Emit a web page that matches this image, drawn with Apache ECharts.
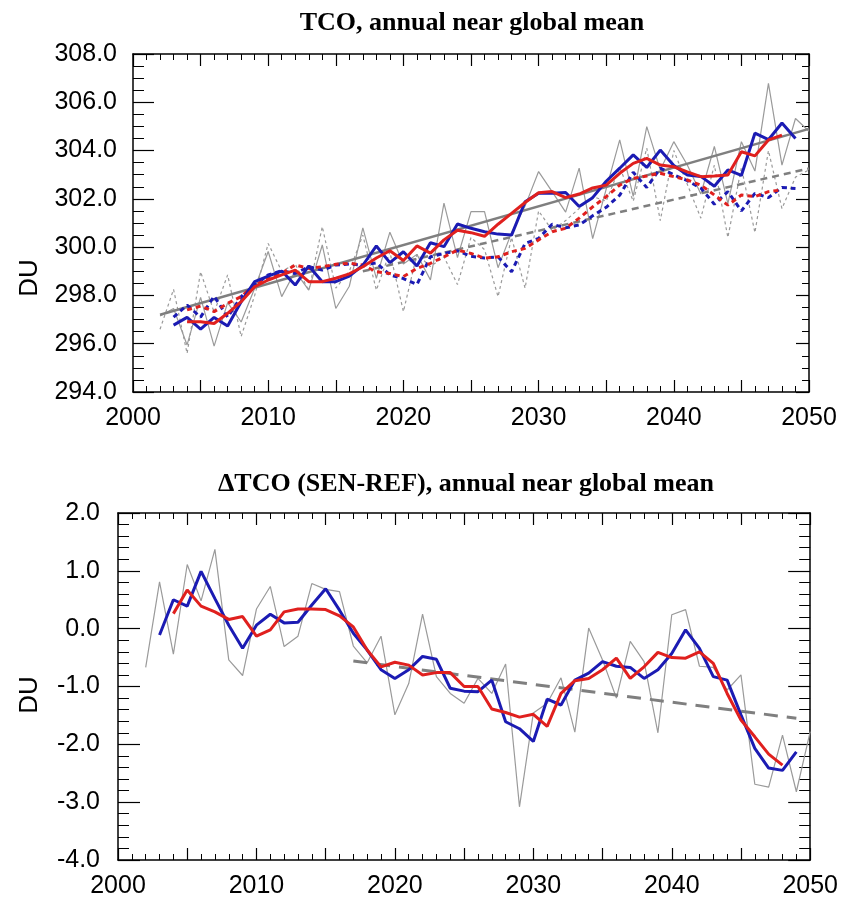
<!DOCTYPE html>
<html><head><meta charset="utf-8">
<script src="https://cdn.jsdelivr.net/npm/echarts@6/dist/echarts.min.js"></script>
<style>html,body{margin:0;padding:0;background:#fff}#c{width:841px;height:902px}</style>
</head><body><div id="c"></div>
<script>
// ---------- data ----------
const years = [2002,2003,2004,2005,2006,2007,2008,2009,2010,2011,2012,2013,2014,2015,2016,2017,2018,2019,2020,2021,2022,2023,2024,2025,2026,2027,2028,2029,2030,2031,2032,2033,2034,2035,2036,2037,2038,2039,2040,2041,2042,2043,2044,2045,2046,2047,2048,2049,2050];

// Top panel: TCO (DU)
const tcoAnnualSolid = [297.15,297.46,295.95,297.92,295.9,297.7,296.9,298.3,299.82,297.95,299.0,298.22,300.09,297.46,298.38,300.8,298.71,300.62,299.3,299.7,298.64,301.82,299.57,301.47,301.47,299.15,300.6,301.7,303.13,302.3,301.45,303.27,300.35,302.4,304.44,302.1,304.99,303.2,304.37,303.4,302.2,304.17,301.8,304.37,303.15,306.78,303.4,305.33,304.8];
const tcoAnnualDotted = [296.6,298.25,295.6,298.98,297.3,298.85,296.3,298.0,300.15,299.0,299.3,298.2,300.85,298.3,299.0,300.5,298.22,299.8,297.33,299.7,299.2,299.6,298.45,300.4,299.9,297.95,300.4,298.3,301.5,300.7,301.1,301.6,302.1,301.9,303.3,301.9,304.1,301.1,304.0,302.6,301.2,303.4,300.4,303.3,300.6,304.0,301.6,302.9,303.2];
const tcoBlueSolid = [null,296.77,297.09,296.6,297.09,296.73,297.74,298.57,298.8,299.01,298.43,299.22,298.57,298.57,298.8,299.25,300.05,299.36,299.81,299.22,300.18,300.02,300.96,300.78,300.64,300.54,300.5,301.88,302.23,302.23,302.26,301.68,302.05,302.73,303.27,303.82,303.3,304.02,303.38,302.99,302.93,302.52,303.2,302.97,304.72,304.45,305.14,304.5,null];
const tcoBlueDashed = [null,297.1,297.6,297.1,297.97,297.1,297.95,298.43,298.85,299.02,298.91,299.19,299.05,299.26,299.3,299.25,299.35,298.85,298.7,298.45,299.6,299.74,299.85,299.62,299.55,299.6,298.98,300.15,300.36,300.95,300.8,300.92,301.3,301.65,302.15,303.1,302.47,303.27,303.0,302.75,302.45,301.78,302.3,301.5,302.23,302.05,302.47,302.43,null];
const tcoRedSolid = [null,null,296.91,296.91,296.84,297.26,297.74,298.36,298.64,298.85,299.05,298.57,298.57,298.71,298.89,299.19,299.55,299.85,299.45,300.05,299.75,300.3,300.7,300.6,300.45,300.95,301.4,301.85,302.25,302.3,302.05,302.2,302.45,302.57,303.06,303.47,303.68,303.4,303.33,303.12,302.92,302.95,302.99,303.95,303.78,304.44,304.64,null,null];
const tcoRedDashed = [null,null,297.4,297.56,297.33,297.67,297.95,298.43,298.71,298.92,299.26,299.12,299.19,299.29,299.33,299.26,298.98,298.91,298.78,299.12,299.33,299.6,299.88,299.74,299.54,299.6,299.81,299.95,300.3,300.64,300.78,301.2,301.67,302.09,302.57,302.85,302.95,303.06,302.92,302.78,302.57,302.16,301.74,302.16,302.09,302.3,302.37,null,null];
const tcoTrendSolidYears = [2002, 2050];
const tcoTrendSolid = [297.2, 304.9];
const tcoTrendDashedYears = [2017, 2050];
const tcoTrendDashed = [299.0, 303.26];
const tcoYTicks = [294,296,298,300,302,304,306,308];

// Bottom panel: delta TCO (SEN-REF)
const dAnnual = [-0.67,0.81,-0.44,1.11,0.48,1.37,-0.54,-0.81,0.34,0.73,-0.31,-0.13,0.78,0.68,0.64,-0.30,-0.59,-0.13,-1.49,-0.95,0.25,-0.83,-1.12,-1.29,-0.86,-1.12,-0.61,-3.08,-1.46,-1.29,-0.85,-1.79,0.01,-0.54,-1.20,-0.22,-0.57,-1.80,0.24,0.33,-0.65,-0.67,-1.06,-0.80,-2.69,-2.74,-1.84,-2.82,-1.78];
const dBlue = [null,-0.11,0.50,0.39,0.99,0.52,0.06,-0.34,0.06,0.25,0.10,0.11,0.41,0.69,0.32,-0.08,-0.37,-0.71,-0.86,-0.71,-0.48,-0.53,-1.03,-1.08,-1.09,-0.89,-1.61,-1.73,-1.95,-1.22,-1.32,-0.89,-0.77,-0.57,-0.65,-0.67,-0.86,-0.71,-0.43,-0.02,-0.34,-0.83,-0.89,-1.49,-2.07,-2.41,-2.45,-2.13,null];
const dRed = [null,null,0.26,0.67,0.39,0.29,0.16,0.21,-0.13,-0.02,0.29,0.34,0.34,0.33,0.22,0.03,-0.37,-0.66,-0.58,-0.63,-0.80,-0.76,-0.76,-1.00,-1.00,-1.39,-1.45,-1.53,-1.48,-1.69,-1.12,-0.90,-0.86,-0.71,-0.51,-0.86,-0.66,-0.41,-0.50,-0.51,-0.40,-0.60,-1.12,-1.58,-1.87,-2.17,-2.36,null,null];
const dTrendYears = [2017, 2049];
const dTrend = [-0.56, -1.55];
const dYTicks = [-4,-3,-2,-1,0,1,2];

const xTicks = [2000,2010,2020,2030,2040,2050];

// ---------- helpers ----------
function pairs(xs, vs){ return xs.map((x,i)=>[x, vs[i]]).filter(p=>p[1]!==null); }
const BLUE='#1b1bb3', RED='#e0201e', GREYT='#9a9a9a', GREYTR='#7f7f7f';
const LBL='"Liberation Sans", Arial, sans-serif';
const LFS=25;

function xAxis(grid, pos, show, majLen, minLen){
  return {type:'value', gridIndex:grid, position:pos, min:2000, max:2050, interval:5,
    axisLine:{show:true, onZero:false, lineStyle:{color:'#000', width:1.5}},
    axisTick:{show:true, inside:true, length:majLen, lineStyle:{color:'#000', width:1.2}},
    minorTick:{show:true, splitNumber:5, length:minLen, lineStyle:{color:'#000', width:1}},
    splitLine:{show:false}, minorSplitLine:{show:false},
    axisLabel:{show:show, margin:14, fontSize:LFS, fontFamily:LBL, color:'#000',
      formatter:v=> xTicks.indexOf(v)>=0 ? String(v) : ''}};
}
function yAxis(grid, pos, show, min, max, interval, minorSplit, majLen, minLen, margin){
  return {type:'value', gridIndex:grid, position:pos, min:min, max:max, interval:interval,
    axisLine:{show:true, onZero:false, lineStyle:{color:'#000', width:1.5}},
    axisTick:{show:true, inside:true, length:majLen, lineStyle:{color:'#000', width:1.2}},
    minorTick:{show:true, splitNumber:minorSplit, length:minLen, lineStyle:{color:'#000', width:1}},
    splitLine:{show:false}, minorSplitLine:{show:false},
    axisLabel:{show:show, margin:margin, fontSize:LFS, fontFamily:LBL, color:'#000',
      formatter:v=>v.toFixed(1)}};
}
function line(xi, yi, data, color, width, type, z){
  return {type:'line', xAxisIndex:xi, yAxisIndex:yi, data:data, showSymbol:false, symbol:'none',
    lineStyle:{color:color, width:width, type:type}, z:z, silent:true, animation:false};
}

const chart = echarts.init(document.getElementById('c'), null, {renderer:'canvas'});
chart.setOption({
  backgroundColor:'#fff',
  animation:false,
  grid:[
    {left:133, top:54, width:676, height:338},
    {left:118, top:513, width:693, height:347}
  ],
  xAxis:[
    xAxis(0,'bottom',true,12,6),
    xAxis(0,'top',false,12,6),
    xAxis(1,'bottom',true,12,6),
    xAxis(1,'top',false,12,6)
  ],
  yAxis:[
    yAxis(0,'left',true,tcoYTicks[0],tcoYTicks[tcoYTicks.length-1],2,4,21,11,16),
    yAxis(0,'right',false,tcoYTicks[0],tcoYTicks[tcoYTicks.length-1],2,4,13,7,16),
    yAxis(1,'left',true,dYTicks[0],dYTicks[dYTicks.length-1],1,5,22,11,18),
    yAxis(1,'right',false,dYTicks[0],dYTicks[dYTicks.length-1],1,5,22,11,18)
  ],
  series:[
    line(0,0,pairs(years,tcoAnnualSolid),GREYT,1.2,'solid',2),
    line(0,0,pairs(years,tcoAnnualDotted),GREYT,1.2,[3,3],2),
    line(0,0,pairs(tcoTrendSolidYears,tcoTrendSolid),GREYTR,2.5,'solid',3),
    line(0,0,pairs(tcoTrendDashedYears,tcoTrendDashed),GREYTR,2.5,[7,5],3),
    line(0,0,pairs(years,tcoBlueDashed),BLUE,3,[5,4],4),
    line(0,0,pairs(years,tcoRedDashed),RED,3,[5,4],5),
    line(0,0,pairs(years,tcoBlueSolid),BLUE,3,'solid',6),
    line(0,0,pairs(years,tcoRedSolid),RED,3,'solid',7),

    line(2,2,pairs(years,dAnnual),GREYT,1.2,'solid',2),
    line(2,2,pairs(dTrendYears,dTrend),GREYTR,3,[14,9],3),
    line(2,2,pairs(years,dBlue),BLUE,3,'solid',6),
    line(2,2,pairs(years,dRed),RED,3,'solid',7)
  ],
  graphic:[
    {type:'text', x:472, y:23, style:{text:'TCO, annual near global mean', font:'bold 26px "Liberation Serif", "Times New Roman", serif', fill:'#000', textAlign:'center', textVerticalAlign:'middle', verticalAlign:'middle'}},
    {type:'text', x:466, y:484, style:{text:'\u0394TCO (SEN-REF), annual near global mean', font:'bold 26px "Liberation Serif", "Times New Roman", serif', fill:'#000', textAlign:'center', textVerticalAlign:'middle', verticalAlign:'middle'}},
    {type:'text', x:30, y:278, rotation:Math.PI/2, style:{text:'DU', font:'26px "Liberation Sans", Arial, sans-serif', fill:'#000', textAlign:'center', textVerticalAlign:'middle', verticalAlign:'middle'}},
    {type:'text', x:30, y:695, rotation:Math.PI/2, style:{text:'DU', font:'26px "Liberation Sans", Arial, sans-serif', fill:'#000', textAlign:'center', textVerticalAlign:'middle', verticalAlign:'middle'}}
  ]
});
</script></body></html>
